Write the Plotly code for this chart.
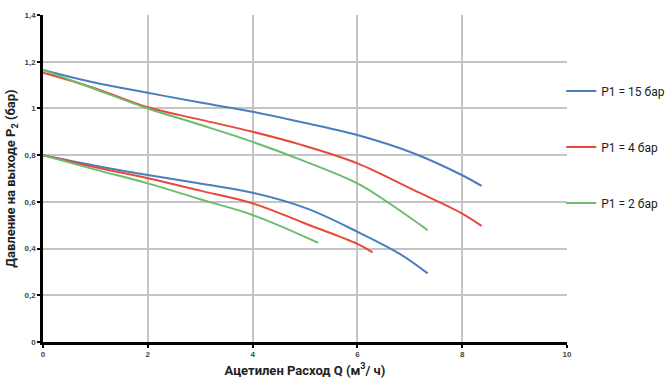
import plotly.graph_objects as go

# Upper curves (inlet set high)
q_blue_hi = [0, 1, 2, 3, 4, 4.9, 6, 7.07, 7.99, 8.37]
p_blue_hi = [1.165, 1.11, 1.067, 1.025, 0.986, 0.943, 0.886, 0.808, 0.715, 0.668]
q_red_hi = [0, 1, 2, 3, 4, 4.9, 6, 7.07, 7.99, 8.37]
p_red_hi = [1.153, 1.086, 1.005, 0.952, 0.900, 0.846, 0.765, 0.651, 0.551, 0.497]
q_green_hi = [0, 1, 2, 3, 4, 4.9, 6, 6.6, 7.34]
p_green_hi = [1.165, 1.082, 1.0, 0.93, 0.857, 0.782, 0.679, 0.595, 0.479]

# Lower curves
q_blue_lo = [0, 1, 2, 3, 4, 5.03, 6, 6.81, 7.34]
p_blue_lo = [0.8, 0.755, 0.715, 0.679, 0.639, 0.572, 0.472, 0.377, 0.294]
q_red_lo = [0, 1, 2, 3, 4, 5.03, 6, 6.29]
p_red_lo = [0.8, 0.748, 0.701, 0.648, 0.594, 0.505, 0.42, 0.384]
q_green_lo = [0, 1, 2, 3, 4, 5.25]
p_green_lo = [0.8, 0.738, 0.679, 0.611, 0.544, 0.425]

names = ["P1 = 15 бар", "P1 = 4 бар", "P1 = 2 бар"]
colors = ["#4a7ebf", "#e8493a", "#6dbb6d"]

x_ticks = [0, 2, 4, 6, 8, 10]
y_ticks = [0, 0.2, 0.4, 0.6, 0.8, 1.0, 1.2, 1.4]
y_tick_text = ["0", "0,2", "0,4", "0,6", "0,8", "1", "1,2", "1,4"]

fig = go.Figure()
series = [
    (q_blue_hi, p_blue_hi, q_blue_lo, p_blue_lo),
    (q_red_hi, p_red_hi, q_red_lo, p_red_lo),
    (q_green_hi, p_green_hi, q_green_lo, p_green_lo),
]
for i, (qh, ph, ql, pl) in enumerate(series):
    fig.add_trace(go.Scatter(x=qh, y=ph, mode="lines", name=names[i],
                             legendgroup=str(i), showlegend=True,
                             line=dict(color=colors[i], width=2, shape="spline")))
    fig.add_trace(go.Scatter(x=ql, y=pl, mode="lines", name=names[i],
                             legendgroup=str(i), showlegend=False,
                             line=dict(color=colors[i], width=2, shape="spline")))

tickfont = dict(size=8, color="#444", family="Liberation Sans Narrow, Liberation Sans, sans-serif")

fig.update_layout(
    width=665, height=385,
    margin=dict(l=43, r=98, t=15, b=43, autoexpand=False),
    paper_bgcolor="white", plot_bgcolor="white",
    separators=", ",
    font=dict(family="Roboto, Liberation Sans, sans-serif", color="#222"),
    legend=dict(x=0.989, y=0.812, xanchor="left", yanchor="top",
                tracegroupgap=37, itemwidth=30,
                font=dict(size=12, color="#222"), bgcolor="rgba(0,0,0,0)"),
    xaxis=dict(range=[0, 10], tickvals=x_ticks, ticktext=["<b>%d</b>" % v for v in x_ticks],
               showgrid=True, gridcolor="#c4c4c4", gridwidth=1.5,
               showline=True, linecolor="black", linewidth=2.5,
               ticks="outside", ticklen=3, tickcolor="black", tickwidth=1.5,
               tickfont=tickfont, zeroline=False,
               title=dict(text="<b>Ацетилен Расход Q (м<sup>3</sup>/ ч)</b>",
                          font=dict(size=13, color="#222"), standoff=8)),
    yaxis=dict(range=[0, 1.4], tickvals=y_ticks,
               ticktext=["<b>%s</b>" % t for t in y_tick_text],
               showgrid=True, gridcolor="#c4c4c4", gridwidth=1.5,
               showline=True, linecolor="black", linewidth=2.5,
               ticks="outside", ticklen=3, tickcolor="black", tickwidth=1.5,
               tickfont=tickfont, zeroline=False,
               title=dict(text="<b>Давление на выходе P<sub>2</sub> (бар)</b>",
                          font=dict(size=13, color="#222"), standoff=6)),
)

fig.write_html("out.html")
